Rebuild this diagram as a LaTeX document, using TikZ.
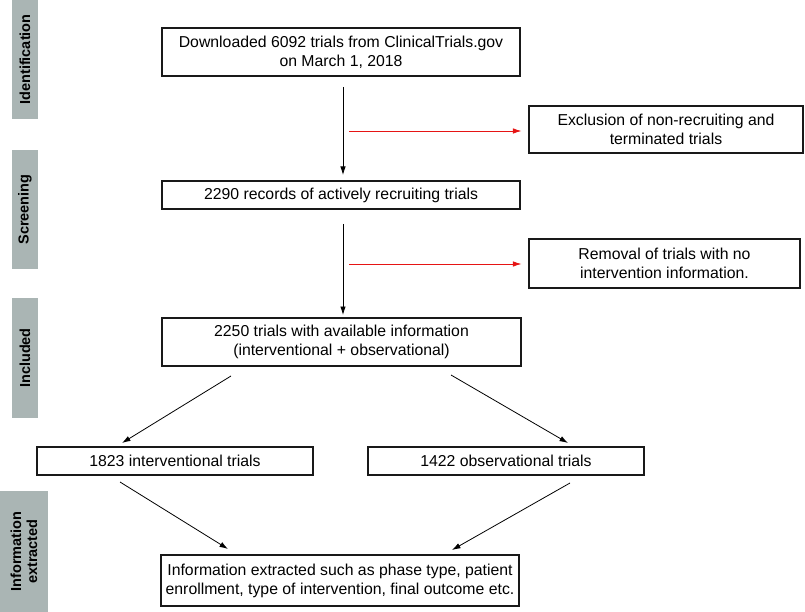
\documentclass[tikz,border=0pt]{standalone}
\usepackage{fontspec}
\setmainfont{Liberation Sans}
\usetikzlibrary{arrows.meta}
\definecolor{sidegray}{RGB}{170,181,180}
\definecolor{arrred}{RGB}{230,20,20}
\begin{document}
\begin{tikzpicture}[x=1pt,y=-1pt,
  box/.style={draw=black!90, line width=1.1pt, inner sep=0pt, align=center,
    font=\fontsize{15.8}{19}\selectfont},
  side/.style={fill=sidegray, inner sep=0pt, align=center, rotate=90,
    font=\bfseries\fontsize{14.5}{16}\selectfont},
  arr/.style={line width=0.8pt, -{Latex[length=8.5pt,width=5.5pt]}},
  redarr/.style={arr, draw=arrred, -{Latex[length=8.5pt,width=5.5pt,color=arrred]}}]
\useasboundingbox (0,0) rectangle (805,612);

% side labels
\node[side, minimum width=119pt, minimum height=26pt] (sid) at (25,59.5) {Identification};
\node[side, minimum width=119pt, minimum height=26pt] (scr) at (25,209.5) {Screening};
\node[side, minimum width=120pt, minimum height=26pt] (inc) at (25,358) {Included};
\node[side, minimum width=121pt, minimum height=48pt] (inf) at (24,551.5) {Information\\extracted};

% boxes
\node[box, minimum width=358pt, minimum height=48pt] (b1) at (341,52)
  {Downloaded 6092 trials from ClinicalTrials.gov\\on March 1, 2018};
\node[box, minimum width=274pt, minimum height=47pt] (excl) at (666,129.5)
  {Exclusion of non-recruiting and\\terminated trials};
\node[box, minimum width=358pt, minimum height=28pt] (b2) at (341,195)
  {2290 records of actively recruiting trials};
\node[box, minimum width=271pt, minimum height=49pt] (rem) at (664.5,263.5)
  {Removal of trials with no\\intervention information.};
\node[box, minimum width=359pt, minimum height=48pt] (b3) at (341.5,342)
  {2250 trials with available information\\(interventional + observational)};
\node[box, minimum width=276pt, minimum height=28pt] (int) at (175,461)
  {1823 interventional trials};
\node[box, minimum width=276pt, minimum height=28pt] (obs) at (506,461)
  {1422 observational trials};
\node[box, minimum width=358pt, minimum height=51pt] (fin) at (340,580.5)
  {Information extracted such as phase type, patient\\enrollment, type of intervention, final outcome etc.};

% connector end points
\coordinate (v1s) at (343,87);   \coordinate (v1e) at (343,175);
\coordinate (v2s) at (343,224);  \coordinate (v2e) at (343,315);
\coordinate (r1) at (349,131);
\coordinate (r2) at (349,264);
\coordinate (d1s) at (231,376);  \coordinate (d1e) at (122,443);
\coordinate (d2s) at (451,375);  \coordinate (d2e) at (568,443);
\coordinate (d3s) at (120,482);  \coordinate (d3e) at (228,549);
\coordinate (d4s) at (570,483);  \coordinate (d4e) at (452,550);

% connectors
\draw[arr] (v1s) -- (v1e);
\draw[arr] (v2s) -- (v2e);
\draw[redarr, shorten >=7pt] (r1) -- (r1 -| excl.west);
\draw[redarr, shorten >=7pt] (r2) -- (r2 -| rem.west);
\draw[arr] (d1s) -- (d1e);
\draw[arr] (d2s) -- (d2e);
\draw[arr] (d3s) -- (d3e);
\draw[arr] (d4s) -- (d4e);
\end{tikzpicture}
\end{document}
